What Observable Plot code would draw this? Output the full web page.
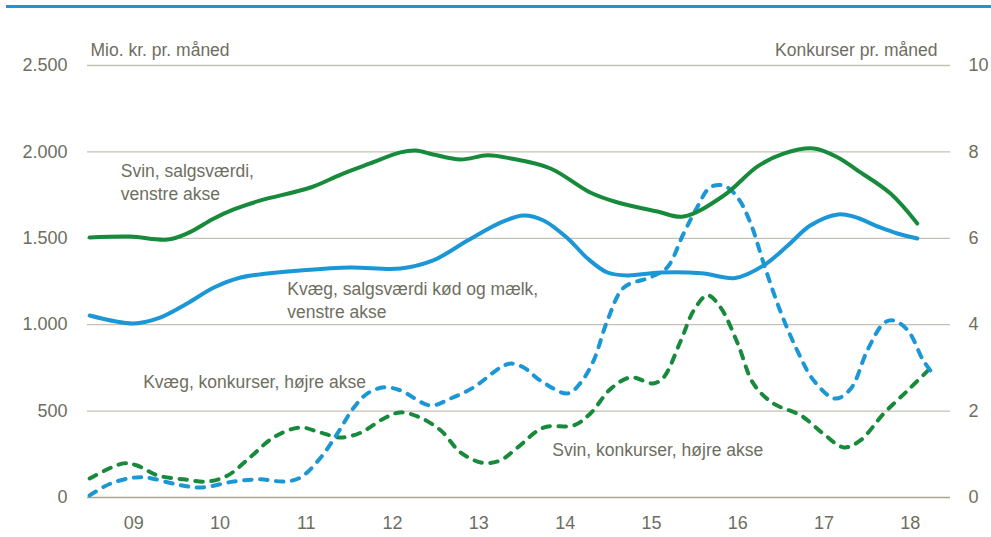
<!DOCTYPE html>
<html>
<head>
<meta charset="utf-8">
<script src="https://cdn.jsdelivr.net/npm/d3@7"></script>
<script src="https://cdn.jsdelivr.net/npm/@observablehq/plot@0.6"></script>
<style>
  html, body { margin: 0; padding: 0; background: #fff; }
  #wrap { position: relative; width: 991px; height: 537px; }
  #topline { position: absolute; left: 6px; right: 0; top: 5px; height: 3px; background: #1c97d6; }
  #chart { position: absolute; left: 0; top: 0; }
</style>
</head>
<body>
<div id="wrap"><div id="topline"></div><div id="chart"></div></div>
<script>
// Svin, salgsværdi (mio. kr. pr. måned, venstre akse)
const svinSalgT = [2008.99,2009.46,2009.89,2010.12,2010.43,2010.66,2010.97,2011.55,2011.90,2012.24,2012.59,2012.77,2012.97,2013.29,2013.60,2013.87,2014.33,2014.79,2015.11,2015.57,2015.87,2016.34,2016.73,2017.03,2017.38,2017.66,2017.89,2018.27,2018.58];
const svinSalgV = [1505,1510,1493,1528,1615,1667,1719,1794,1869,1933,1997,2008,1985,1956,1980,1962,1904,1765,1707,1655,1626,1748,1916,1990,2020,1968,1892,1759,1586];

// Kvæg, salgsværdi kød og mælk (venstre akse)
const kvaegSalgT = [2008.99,2009.50,2009.78,2010.12,2010.43,2010.74,2011.05,2011.43,2012.01,2012.59,2012.97,2013.37,2013.75,2014.02,2014.25,2014.53,2014.76,2014.99,2015.22,2015.60,2016.08,2016.47,2016.80,2017.08,2017.34,2017.66,2017.84,2018.15,2018.35,2018.58];
const kvaegSalgV = [1053,1007,1036,1123,1215,1273,1296,1314,1331,1325,1372,1487,1591,1632,1603,1499,1383,1302,1285,1302,1298,1270,1343,1458,1574,1638,1626,1563,1528,1499];

// Kvæg, konkurser pr. måned (højre akse)
const kvaegKonkT = [2008.99,2009.23,2009.50,2009.66,2009.96,2010.27,2010.66,2010.97,2011.24,2011.43,2011.67,2011.86,2012.05,2012.21,2012.40,2012.59,2012.94,2013.17,2013.44,2013.75,2013.87,2014.02,2014.21,2014.53,2014.68,2014.83,2014.99,2015.18,2015.49,2015.68,2015.87,2016.03,2016.18,2016.34,2016.50,2016.65,2016.80,2016.99,2017.19,2017.38,2017.63,2017.81,2018.00,2018.19,2018.30,2018.47,2018.65,2018.76];
const kvaegKonkV = [0.05,0.32,0.46,0.46,0.32,0.23,0.37,0.42,0.37,0.46,0.93,1.48,2.08,2.41,2.55,2.48,2.13,2.29,2.55,3.01,3.10,3.01,2.71,2.41,2.66,3.17,4.10,4.86,5.10,5.32,6.10,6.72,7.18,7.22,6.94,6.34,5.42,4.33,3.40,2.71,2.29,2.52,3.40,4.03,4.10,3.87,3.17,2.87];

// Svin, konkurser pr. måned (højre akse)
const svinKonkT = [2008.99,2009.38,2009.54,2009.78,2010.08,2010.36,2010.59,2010.85,2011.12,2011.43,2011.67,2011.90,2012.13,2012.40,2012.59,2012.82,2013.06,2013.29,2013.55,2013.75,2013.95,2014.25,2014.60,2014.79,2015.03,2015.26,2015.52,2015.64,2015.84,2015.99,2016.15,2016.30,2016.50,2016.68,2016.91,2017.23,2017.49,2017.73,2017.92,2018.19,2018.47,2018.73];
const svinKonkV = [0.44,0.79,0.74,0.51,0.42,0.37,0.51,0.93,1.39,1.62,1.50,1.39,1.50,1.83,1.97,1.85,1.55,1.04,0.80,0.86,1.16,1.62,1.67,1.94,2.52,2.78,2.64,2.78,3.63,4.33,4.68,4.40,3.56,2.64,2.18,1.90,1.48,1.16,1.32,1.94,2.48,2.99];

// Axes
const leftTicks = [0, 500, 1000, 1500, 2000, 2500];
const rightTicks = [0, 2, 4, 6, 8, 10];
const yearTicks = [2009, 2010, 2011, 2012, 2013, 2014, 2015, 2016, 2017, 2018];
const yearLabels = ["09", "10", "11", "12", "13", "14", "15", "16", "17", "18"];
const leftTitle = "Mio. kr. pr. måned";
const rightTitle = "Konkurser pr. måned";

// Series labels (text, year, value on left scale)
const labelTexts = ["Svin, salgsværdi,\nvenstre akse", "Kvæg, salgsværdi kød og mælk,\nvenstre akse", "Kvæg, konkurser, højre akse", "Svin, konkurser, højre akse"];
const labelT = [2009.35, 2011.28, 2009.61, 2014.35];
const labelV = [1829, 1149, 677, 284];

const ratio = 2500 / 10; // right axis -> left axis units
const green = "#178a3c", blue = "#1c97d6", txt = "#6e6e60";
const font = "'Liberation Sans',Arial,sans-serif";

const zip = (T, V) => T.map((t, i) => ({t, v: V[i]}));
const svinSalg = zip(svinSalgT, svinSalgV);
const kvaegSalg = zip(kvaegSalgT, kvaegSalgV);
const kvaegKonk = zip(kvaegKonkT, kvaegKonkV);
const svinKonk = zip(svinKonkT, svinKonkV);
const labels = labelTexts.map((s, i) => ({s, t: labelT[i], v: labelV[i]}));

const curve = "catmull-rom";
const dash = {strokeDasharray: "7.5,8.5", strokeLinecap: "round"};

const chart = Plot.plot({
  width: 991,
  height: 537,
  marginLeft: 87,
  marginRight: 41,
  marginTop: 65,
  marginBottom: 40,
  style: {fontFamily: font, fontSize: "18px", color: txt, background: "transparent"},
  x: {domain: [2008.965, 2018.965]},
  y: {domain: [0, 2500]},
  marks: [
    Plot.ruleY(leftTicks.filter(d => d > 0), {stroke: "#c3c1b3", strokeWidth: 1.3}),
    Plot.ruleY([0], {stroke: "#a7a595", strokeWidth: 1.5}),
    Plot.axisY(leftTicks, {anchor: "left", tickSize: 0, tickPadding: 20, fill: txt, fontSize: 18, tickFormat: d => d3.format(",")(d).replace(/,/g, "."), label: null}),
    Plot.axisY(rightTicks.map(d => d * ratio), {anchor: "right", tickSize: 0, tickPadding: 18, fill: txt, fontSize: 18, tickFormat: d => String(d / ratio), label: null}),
    Plot.axisX(yearTicks.map(d => d + 0.5), {anchor: "bottom", tickSize: 0, tickPadding: 19, fill: txt, fontSize: 18, tickFormat: (d, i) => yearLabels[i], label: null}),
    Plot.text([leftTitle], {frameAnchor: "top-left", dx: 3, dy: -22, text: d => d, fill: txt, fontSize: 17.5, textAnchor: "start"}),
    Plot.text([rightTitle], {frameAnchor: "top-right", dx: -13, dy: -22, text: d => d, fill: txt, fontSize: 17.5, textAnchor: "end"}),
    Plot.line(svinKonk, {x: "t", y: d => d.v * ratio, stroke: green, strokeWidth: 4, curve, ...dash}),
    Plot.line(kvaegKonk, {x: "t", y: d => d.v * ratio, stroke: blue, strokeWidth: 4, curve, ...dash}),
    Plot.line(kvaegSalg, {x: "t", y: "v", stroke: blue, strokeWidth: 4, curve}),
    Plot.line(svinSalg, {x: "t", y: "v", stroke: green, strokeWidth: 4, curve}),
    Plot.text(labels, {x: "t", y: "v", text: "s", textAnchor: "start", lineAnchor: "middle", lineHeight: 1.3, fill: txt, fontSize: 17.5})
  ]
});
document.getElementById("chart").appendChild(chart);
</script>
</body>
</html>
